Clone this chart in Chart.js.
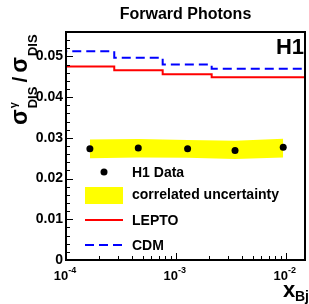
<!DOCTYPE html>
<html>
<head>
<meta charset="utf-8">
<script src="https://cdn.jsdelivr.net/npm/chart.js@4.4.0/dist/chart.umd.min.js"></script>
<style>
html, body { margin: 0; padding: 0; background: #fff; }
canvas { display: block; }
</style>
</head>
<body>
<canvas id="myChart" width="309" height="304"></canvas>
<script>
// MC predictions, histogram bin edges in x_Bj
const binEdges = [1e-4, 2.75e-4, 7.59e-4, 2.12e-3, 5.75e-3, 1.5e-2];
const lepto = [0.0491, 0.0475, 0.0466, 0.0456, 0.0449];
const cdm = [0.0532, 0.0513, 0.0497, 0.0480, 0.0470];

// H1 measurement and correlated uncertainty band
const dataX = [1.65e-4, 4.55e-4, 1.28e-3, 3.46e-3, 9.5e-3];
const dataY = [0.0273, 0.0275, 0.0273, 0.0269, 0.0277];
const bandLo = [0.0250, 0.0252, 0.0251, 0.0248, 0.0252];
const bandHi = [0.0296, 0.0297, 0.0295, 0.0293, 0.0298];

const yTicks = [0, 0.01, 0.02, 0.03, 0.04, 0.05];
const xTickExps = [-4, -3, -2];

const FONT = '"Liberation Sans", Arial, sans-serif';

// histogram as stepped line: repeat last value at the last edge
function steps(vals) {
    return binEdges.map((e, i) => ({x: e, y: vals[Math.min(i, vals.length - 1)]}));
}

const decor = {
    id: 'decor',
    afterDraw(chart) {
        const ctx = chart.ctx;
        const a = chart.chartArea;
        const x = chart.scales.x, y = chart.scales.y;
        ctx.save();
        ctx.fillStyle = '#000';
        ctx.strokeStyle = '#000';

        // frame
        ctx.lineWidth = 2;
        ctx.strokeRect(a.left, a.top, a.right - a.left, a.bottom - a.top);

        // tick marks, pointing inside
        ctx.lineWidth = 1;
        ctx.beginPath();
        const n = Math.floor(y.max / 0.002 + 1e-6);
        for (let i = 0; i <= n; i++) {
            const py = Math.round(y.getPixelForValue(i * 0.002)) + 0.5;
            const len = i % 5 === 0 ? 7 : 4;
            ctx.moveTo(a.left, py);
            ctx.lineTo(a.left + len, py);
        }
        for (let e = -4; e <= -2; e++) {
            for (let m = 1; m <= 9; m++) {
                const v = m * Math.pow(10, e);
                if (v < x.min || v > x.max) continue;
                const px = Math.round(x.getPixelForValue(v)) + 0.5;
                const len = m === 1 ? 7 : 4;
                ctx.moveTo(px, a.bottom);
                ctx.lineTo(px, a.bottom - len);
            }
        }
        ctx.stroke();

        // x tick labels 10^n
        ctx.textBaseline = 'alphabetic';
        ctx.textAlign = 'left';
        xTickExps.forEach(e => {
            const px = x.getPixelForValue(Math.pow(10, e));
            ctx.font = 'bold 13px ' + FONT;
            const w1 = ctx.measureText('10').width;
            ctx.font = 'bold 9px ' + FONT;
            const sup = String(e);
            const w2 = ctx.measureText(sup).width;
            const x0 = px - (w1 + w2) / 2 - 1;
            ctx.font = 'bold 13px ' + FONT;
            ctx.fillText('10', x0, 280);
            ctx.font = 'bold 9px ' + FONT;
            ctx.fillText(sup, x0 + w1, 273);
        });

        // x axis title
        ctx.font = 'bold 22px ' + FONT;
        ctx.fillText('x', 283, 297);
        ctx.font = 'bold 14px ' + FONT;
        ctx.fillText('Bj', 295, 301);

        // y axis title, rotated
        ctx.save();
        ctx.translate(27, 125);
        ctx.rotate(-Math.PI / 2);
        let p = 0;
        ctx.font = 'bold 23px ' + FONT;
        ctx.fillText('σ', p, 0);
        p += ctx.measureText('σ').width + 1;
        ctx.font = 'bold 11px ' + FONT;
        ctx.fillText('γ', p, -10);
        ctx.font = 'bold 13px ' + FONT;
        ctx.fillText('DIS', p, 10);
        p += ctx.measureText('DIS').width + 4;
        ctx.font = 'bold 21px ' + FONT;
        ctx.fillText('/', p, 0);
        p += ctx.measureText('/').width + 4;
        ctx.font = 'bold 23px ' + FONT;
        ctx.fillText('σ', p, 0);
        p += ctx.measureText('σ').width + 1;
        ctx.font = 'bold 13px ' + FONT;
        ctx.fillText('DIS', p, 10);
        ctx.restore();

        // title
        ctx.textAlign = 'center';
        ctx.textBaseline = 'middle';
        ctx.font = 'bold 16px ' + FONT;
        ctx.fillText('Forward Photons', (a.left + a.right) / 2, 15);

        // H1 label
        ctx.textAlign = 'right';
        ctx.textBaseline = 'alphabetic';
        ctx.font = 'bold 22px ' + FONT;
        ctx.fillText('H1', 304, 54);

        // legend
        ctx.textAlign = 'left';
        ctx.textBaseline = 'middle';
        ctx.font = 'bold 14px ' + FONT;
        ctx.beginPath();
        ctx.arc(104, 172, 3.5, 0, Math.PI * 2);
        ctx.fill();
        ctx.fillText('H1 Data', 132, 173);

        ctx.fillStyle = '#ffff00';
        ctx.fillRect(85, 187, 38, 17);
        ctx.fillStyle = '#000';
        ctx.fillText('correlated uncertainty', 132, 195);

        ctx.lineWidth = 2;
        ctx.strokeStyle = '#ff0000';
        ctx.beginPath();
        ctx.moveTo(85, 220);
        ctx.lineTo(123, 220);
        ctx.stroke();
        ctx.fillText('LEPTO', 132, 221);

        ctx.strokeStyle = '#0000ff';
        ctx.setLineDash([9, 5]);
        ctx.beginPath();
        ctx.moveTo(85, 245);
        ctx.lineTo(123, 245);
        ctx.stroke();
        ctx.setLineDash([]);
        ctx.fillText('CDM', 132, 246);

        ctx.restore();
    }
};

const ctx = document.getElementById('myChart');
new Chart(ctx, {
    type: 'line',
    data: {
        datasets: [
            {
                label: 'band low',
                data: dataX.map((v, i) => ({x: v, y: bandLo[i]})),
                borderWidth: 0,
                pointRadius: 0,
                fill: false,
                order: 5
            },
            {
                label: 'correlated uncertainty',
                data: dataX.map((v, i) => ({x: v, y: bandHi[i]})),
                borderWidth: 0,
                pointRadius: 0,
                backgroundColor: '#ffff00',
                fill: '-1',
                order: 4
            },
            {
                label: 'LEPTO',
                data: steps(lepto),
                stepped: 'after',
                borderColor: '#ff0000',
                borderWidth: 2,
                pointRadius: 0,
                fill: false,
                order: 2
            },
            {
                label: 'CDM',
                data: steps(cdm),
                stepped: 'after',
                borderColor: '#0000ff',
                borderWidth: 2,
                borderDash: [9, 5],
                pointRadius: 0,
                fill: false,
                order: 1
            },
            {
                label: 'H1 Data',
                data: dataX.map((v, i) => ({x: v, y: dataY[i]})),
                showLine: false,
                pointRadius: 3.5,
                pointBackgroundColor: '#000',
                pointBorderWidth: 0,
                order: 0
            }
        ]
    },
    options: {
        responsive: false,
        devicePixelRatio: 1,
        animation: false,
        layout: {padding: {top: 32, right: 4, left: 0, bottom: 0}},
        plugins: {
            legend: {display: false},
            tooltip: {enabled: false}
        },
        scales: {
            x: {
                type: 'logarithmic',
                min: 1e-4,
                max: 1.5e-2,
                grid: {display: false},
                border: {display: false},
                ticks: {display: false},
                afterFit: s => { s.height = 44; }
            },
            y: {
                type: 'linear',
                min: 0,
                max: 0.056,
                grid: {display: false, drawTicks: false},
                border: {display: false},
                ticks: {
                    stepSize: 0.01,
                    includeBounds: false,
                    padding: 3,
                    color: '#000',
                    font: {family: FONT, size: 14, weight: 'bold'},
                    callback: v => {
                        const t = yTicks.find(k => Math.abs(k - v) < 1e-6);
                        if (t === undefined) return '';
                        return t === 0 ? '0' : t.toFixed(2);
                    }
                },
                afterFit: s => { s.width = 66; }
            }
        }
    },
    plugins: [decor]
});
</script>
</body>
</html>
